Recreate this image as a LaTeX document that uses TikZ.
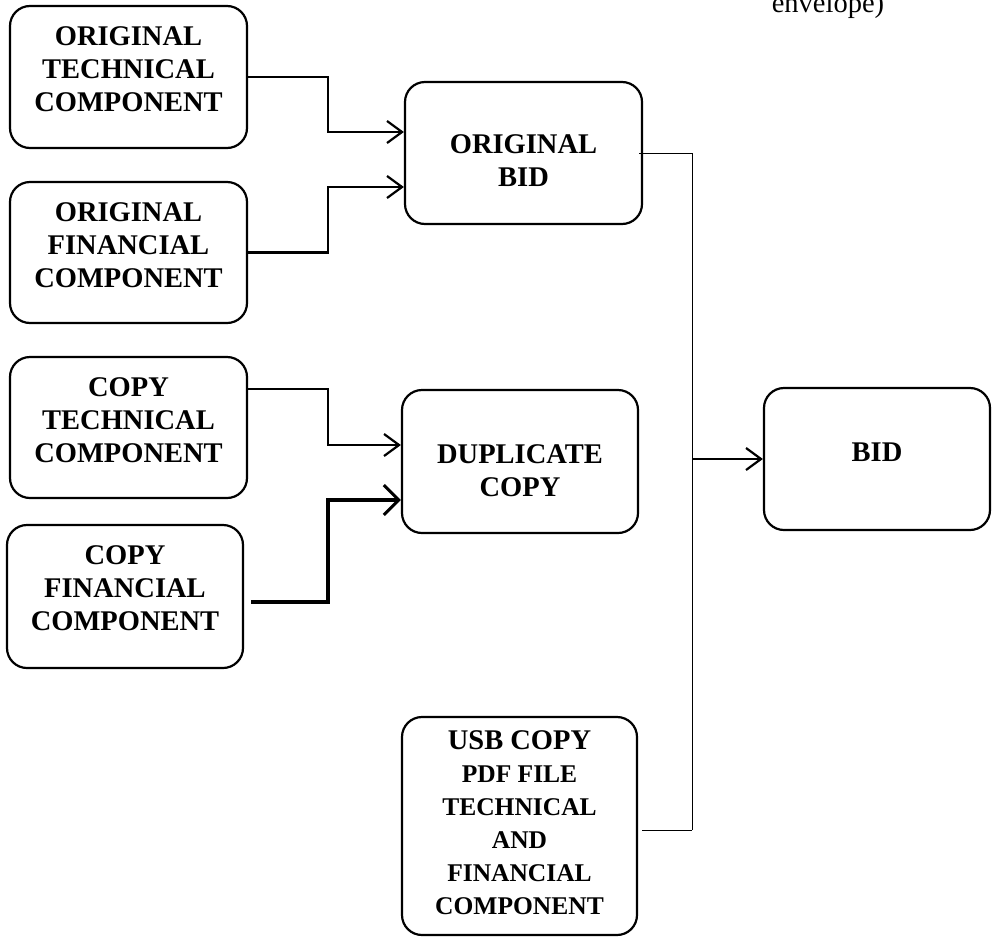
\documentclass[tikz,border=0pt]{standalone}
\usepackage{fontspec}
\setmainfont{Liberation Serif}
\usetikzlibrary{arrows.meta}
\begin{document}
\begin{tikzpicture}[x=1pt,y=-1pt,
  box/.style={draw, line width=2.2pt, rounded corners=20pt, inner sep=0pt},
  lbl/.style={align=center, inner sep=0pt, font=\fontsize{28.5}{33}\selectfont\bfseries},
  conn/.style={line width=2.2pt, -{Straight Barb[length=15pt,width=22pt,line width=2.2pt]}},
  thickconn/.style={line width=4pt, -{Straight Barb[length=15pt,width=30pt,line width=3pt]}},
  thinline/.style={line width=1pt}]
\useasboundingbox (0,0) rectangle (992,937);
\clip (0,0) rectangle (992,937);

% boxes
\node[box, minimum width=237pt, minimum height=142pt] (ot) at (128.5,77) {};
\node[box, minimum width=237pt, minimum height=141pt] (of) at (128.5,252.5) {};
\node[box, minimum width=237pt, minimum height=141pt] (ct) at (128.5,427.5) {};
\node[box, minimum width=236pt, minimum height=143pt] (cf) at (125,596.5) {};
\node[box, minimum width=237pt, minimum height=142pt] (ob) at (523.5,153) {};
\node[box, minimum width=236pt, minimum height=143pt] (dc) at (520,461.5) {};
\node[box, minimum width=226pt, minimum height=142pt] (bid) at (877,459) {};
\node[box, minimum width=235pt, minimum height=218pt] (usb) at (519.5,826) {};

% texts
\node[lbl] (tot) at ([yshift=8pt]ot.center) {ORIGINAL\\TECHNICAL\\COMPONENT};
\node[lbl] (tof) at ([yshift=7.5pt]of.center) {ORIGINAL\\FINANCIAL\\COMPONENT};
\node[lbl] (tct) at ([yshift=7pt]ct.center) {COPY\\TECHNICAL\\COMPONENT};
\node[lbl] (tcf) at ([yshift=8pt]cf.center) {COPY\\FINANCIAL\\COMPONENT};
\node[lbl] (tob) at ([yshift=-7.5pt]ob.center) {ORIGINAL\\BID};
\node[lbl] (tdc) at ([yshift=-9pt]dc.center) {DUPLICATE\\COPY};
\node[lbl] (tbid) at ([yshift=7pt]bid.center) {BID};
\node[lbl, font=\fontsize{25.5}{33}\selectfont\bfseries] (tusb) at ([yshift=3.5pt]usb.center)
  {{\fontsize{28.5}{33}\selectfont USB COPY}\\PDF FILE\\TECHNICAL\\AND\\FINANCIAL\\COMPONENT};

\node[anchor=base, inner sep=0pt, font=\fontsize{28.5}{33}\selectfont] (env) at (828,12) {envelope)};

% connectors
\draw[conn] (ot.east) -- ++(80,0) |- (ob.west |- 0,132);
\draw[conn] (of.east) -- ++(80,0) |- (ob.west |- 0,187);
\draw[conn] (ct.east |- 0,389) -- ++(80,0) |- (dc.west |- 0,445);
\draw[thickconn] ([shift={(7,5)}]cf.east) -- ++(77,0) |- (dc.west |- 0,500);

\coordinate (j2) at (692,830);
\draw[thinline] ([xshift=-4pt]ob.east) -| (j2);
\draw[thinline] ([xshift=4pt]usb.east |- j2) -- (j2);
\draw[conn] (j2 |- bid.west) -- (bid.west);
\end{tikzpicture}
\end{document}
